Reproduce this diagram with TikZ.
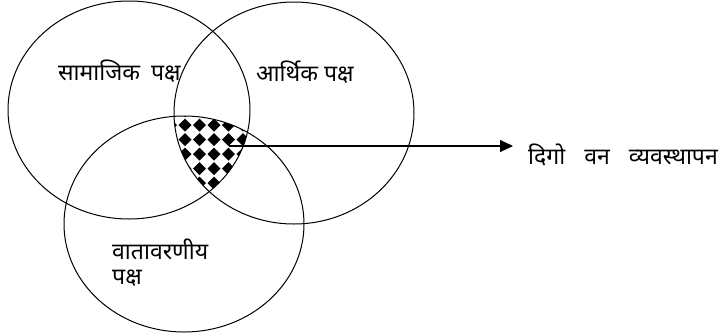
\documentclass[tikz,border=0pt]{standalone}
\usepackage{fontspec}
\newfontfamily\deva[Script=Devanagari]{Noto Sans}
\usetikzlibrary{arrows.meta}
\begin{document}
\begin{tikzpicture}[x=1pt,y=-1pt,
  ring/.style={line width=1pt},
  lbl/.style={font=\deva\fontsize{23}{27}\selectfont, inner sep=0pt, anchor=west}]
\useasboundingbox (0,0) rectangle (725,335);
\def\ellA{(129,110) ellipse [x radius=121, y radius=109]}
\def\ellB{(294,113) ellipse [x radius=120, y radius=111]}
\def\ellC{(184,224) ellipse [x radius=120, y radius=108]}
\begin{scope}
  \clip \ellA;
  \clip \ellB;
  \clip \ellC;
  \foreach \i in {0,...,8}{
    \foreach \j in {0,...,8}{
      \fill (162.5+\i*14.5,96+\j*14.5) -- ++(-6.5,6.5) -- ++(-6.5,-6.5) -- ++(6.5,-6.5) -- cycle;
    }
  }
\end{scope}
\draw[ring] \ellA;
\draw[ring] \ellB;
\draw[ring] \ellC;
\node[lbl] (soc) at (58,71) {सामाजिक\hspace{11pt}पक्ष};
\node[lbl] (eco) at (256,72) {आर्थिक पक्ष};
\node[lbl, align=left, anchor=north west] (env) at (112,239) {वातावरणीय\\[-2pt]पक्ष};
\node[lbl] (goal) at (528,155) {दिगो\hspace{19pt}वन\hspace{19pt}व्यवस्थापन};
\coordinate (s) at (229,146);
\coordinate (tip) at (513,146);
\draw[line width=1.1pt, -{Triangle[length=13pt,width=12pt]}] (s) -- (tip);
\end{tikzpicture}
\end{document}
